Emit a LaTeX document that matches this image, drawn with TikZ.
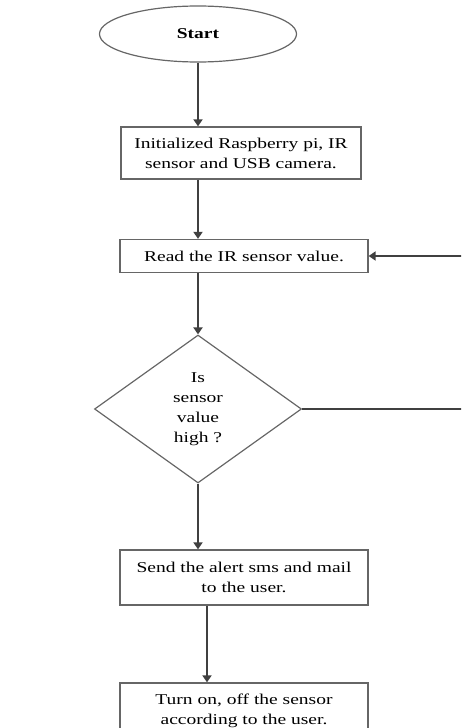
\documentclass[tikz,border=0pt]{standalone}
\usepackage{fontspec}
\setmainfont{Liberation Serif}[FakeStretch=1.3]
\usetikzlibrary{shapes.geometric,arrows.meta,positioning}

\begin{document}
\begin{tikzpicture}[>={Triangle[length=7pt,width=9pt]}, node distance=2cm, on grid,
	every node/.style={font=\fontsize{15pt}{20pt}\selectfont},
	terminal/.style={ellipse, draw=black!60, line width=1.2pt, minimum width=197pt, minimum height=56pt, inner sep=0pt},
	process/.style={rectangle, draw=black!60, line width=1.3pt, minimum width=248pt, align=center, inner sep=0pt},
	decision/.style={diamond, draw=black!60, line width=1.2pt, minimum width=207pt, minimum height=148pt, align=center, inner sep=0pt},
	link/.style={draw=black!75, line width=2pt}]

	\useasboundingbox (0,0) rectangle (461pt,-728pt);
	\clip (0,0) rectangle (461pt,-728pt);

	\node[terminal] (start) at (198pt,-34pt) {\textbf{Start}};
	\node[process, minimum width=240pt, minimum height=52pt] (init) [below right=119pt and 43pt of start] {Initialized Raspberry pi, IR\\sensor and USB camera.};
	\node[process, minimum height=33pt] (read) [below right=103pt and 3pt of init] {Read the IR sensor value.};
	\node[decision] (check) [below left=153pt and 46pt of read] {Is\\sensor\\value\\high ?};
	\node[process, minimum height=55pt] (alert) [below right=168.5pt and 46pt of check] {Send the alert sms and mail\\to the user.};
	\node[process, minimum height=56pt] (turn) [below=133.5pt of alert] {Turn on, off the sensor\\according to the user.};
	\coordinate[right=272pt of check] (rim);

	\path[->, every edge/.style={link}]
				(start.south)		edge	(start.south |- init.north)
				(init.south -| start)	edge	(read.north -| start)
				(read.south -| check)	edge	(check.north)
				(check.south)		edge	(check.south |- alert.north)
				([xshift=-37pt]alert.south)	edge	([xshift=-37pt]turn.north);
	\draw[link,->] (check.east) -- (rim) |- (read.east);
\end{tikzpicture}
\end{document}
